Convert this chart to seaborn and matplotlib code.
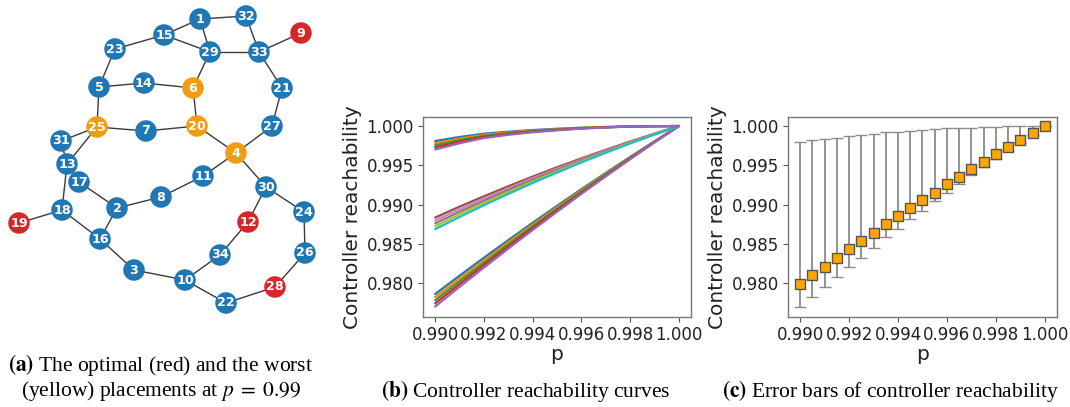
import numpy as np
import pandas as pd
import matplotlib
matplotlib.use("Agg")
import matplotlib.pyplot as plt
import seaborn as sns

# ---------------- data ----------------
# (a) network placement
node_ids = list(range(1, 35))
node_x = [200, 117, 134, 236, 99, 193, 146, 161, 301, 185, 203, 248, 67, 144, 164, 100, 79,
          62, 19, 197, 282, 226, 115, 304, 97, 305, 272, 275, 210, 266, 61, 246, 259, 220]
node_y = [19, 208, 270, 153, 87, 88, 131, 197, 33, 280, 176, 222, 164, 83, 35, 239, 182,
          210, 223, 126, 88, 303, 49, 212, 127, 253, 126, 287, 52, 187, 141, 16, 52, 255]
optimal_nodes = [9, 12, 19, 28]
worst_nodes = [4, 6, 20, 25]
edges = [(1, 32), (1, 15), (1, 29), (32, 33), (33, 9), (15, 23), (15, 29), (29, 33), (29, 6),
         (23, 5), (33, 21), (5, 14), (14, 6), (6, 20), (5, 25), (21, 27), (25, 7), (7, 20),
         (25, 31), (25, 13), (20, 4), (27, 4), (31, 13), (13, 17), (13, 18), (17, 2), (4, 11),
         (11, 8), (8, 2), (2, 16), (18, 16), (18, 19), (16, 3), (3, 10), (10, 34), (34, 12),
         (12, 30), (4, 30), (30, 24), (24, 26), (26, 28), (28, 22), (22, 10)]

# (b) reachability curves
p_curve = [0.990, 0.991, 0.992, 0.993, 0.994, 0.995, 0.996, 0.997, 0.998, 0.999, 1.000]
top_band = [
    [0.99809, 0.99860, 0.99902, 0.99928, 0.99949, 0.99965, 0.99979, 0.99988, 0.99995, 0.99998, 1.0],
    [0.99782, 0.99840, 0.99889, 0.99918, 0.99942, 0.99960, 0.99976, 0.99987, 0.99995, 0.99998, 1.0],
    [0.99755, 0.99820, 0.99875, 0.99908, 0.99935, 0.99955, 0.99973, 0.99985, 0.99994, 0.99998, 1.0],
    [0.99728, 0.99800, 0.99861, 0.99898, 0.99928, 0.99950, 0.99970, 0.99983, 0.99993, 0.99998, 1.0],
    [0.99701, 0.99780, 0.99847, 0.99888, 0.99921, 0.99945, 0.99967, 0.99982, 0.99993, 0.99998, 1.0],
]
mid_band = [
    [0.98834, 0.98973, 0.99105, 0.99233, 0.99356, 0.99475, 0.99588, 0.99697, 0.99803, 0.99903, 1.0],
    [0.98797, 0.98940, 0.99077, 0.99208, 0.99336, 0.99458, 0.99575, 0.99688, 0.99796, 0.99900, 1.0],
    [0.98760, 0.98907, 0.99048, 0.99184, 0.99315, 0.99441, 0.99562, 0.99678, 0.99790, 0.99897, 1.0],
    [0.98723, 0.98874, 0.99019, 0.99160, 0.99294, 0.99424, 0.99549, 0.99668, 0.99784, 0.99894, 1.0],
    [0.98686, 0.98841, 0.98991, 0.99135, 0.99274, 0.99407, 0.99536, 0.99659, 0.99777, 0.99891, 1.0],
]
low_band = [
    [0.97860, 0.98093, 0.98322, 0.98546, 0.98767, 0.98983, 0.99195, 0.99402, 0.99606, 0.99805, 1.0],
    [0.97820, 0.98058, 0.98290, 0.98519, 0.98744, 0.98964, 0.99180, 0.99391, 0.99598, 0.99802, 1.0],
    [0.97780, 0.98022, 0.98259, 0.98492, 0.98721, 0.98945, 0.99165, 0.99380, 0.99591, 0.99798, 1.0],
    [0.97740, 0.97986, 0.98228, 0.98465, 0.98698, 0.98926, 0.99150, 0.99369, 0.99584, 0.99794, 1.0],
    [0.97700, 0.97951, 0.98196, 0.98438, 0.98675, 0.98907, 0.99135, 0.99358, 0.99576, 0.99791, 1.0],
]

# (c) error bars
p_err = [0.9900, 0.9905, 0.9910, 0.9915, 0.9920, 0.9925, 0.9930, 0.9935, 0.9940, 0.9945, 0.9950,
         0.9955, 0.9960, 0.9965, 0.9970, 0.9975, 0.9980, 0.9985, 0.9990, 0.9995, 1.0000]
mean_r = [0.9799, 0.9810, 0.9821, 0.9832, 0.9843, 0.9853, 0.9864, 0.9875, 0.9885, 0.9896, 0.9906,
          0.9915, 0.9926, 0.9935, 0.9945, 0.9954, 0.9964, 0.9973, 0.9982, 0.9991, 1.0000]
max_r = [0.9980, 0.9982, 0.9983, 0.9985, 0.9987, 0.9989, 0.9990, 0.9992, 0.9993, 0.9994, 0.9995,
         0.9996, 0.9997, 0.9998, 0.9998, 0.9999, 0.9999, 1.0000, 1.0000, 1.0000, 1.0000]
min_r = [0.9769, 0.9782, 0.9795, 0.9808, 0.9820, 0.9832, 0.9845, 0.9858, 0.9869, 0.9881, 0.9892,
         0.9904, 0.9915, 0.9926, 0.9937, 0.9948, 0.9958, 0.9968, 0.9979, 0.9989, 1.0000]

x_ticks = [0.990, 0.992, 0.994, 0.996, 0.998, 1.000]
y_ticks = [0.980, 0.985, 0.990, 0.995, 1.000]

# ---------------- style ----------------
sns.set_style("ticks")
plt.rcParams["font.family"] = ["DejaVu Sans"]
plt.rcParams["mathtext.fontset"] = "stix"

W, H = 1070, 407
fig = plt.figure(figsize=(W / 100, H / 100), dpi=100)


def fx(px):
    return px / W


def fy(py):
    return 1 - py / H


# ---------------- (a) graph ----------------
axa = fig.add_axes([0, fy(322), fx(340), 322 / H])
pos = {n: (x, y) for n, x, y in zip(node_ids, node_x, node_y)}
for a, b in edges:
    axa.plot([pos[a][0], pos[b][0]], [pos[a][1], pos[b][1]], color="#3a3a3a", lw=1.0, zorder=1)
roles = ["optimal" if n in optimal_nodes else ("worst" if n in worst_nodes else "other")
         for n in node_ids]
df_nodes = pd.DataFrame({"x": node_x, "y": node_y, "role": roles})
sns.scatterplot(data=df_nodes, x="x", y="y", hue="role",
                palette={"other": "#1f77b4", "optimal": "#d62728", "worst": "#f39c12"},
                s=240, linewidth=0, legend=False, ax=axa, zorder=2)
for n, x, y in zip(node_ids, node_x, node_y):
    axa.text(x, y, str(n), color="white", fontsize=9.2, fontweight="bold",
             ha="center", va="center", zorder=3)
axa.set_xlim(0, 340)
axa.set_ylim(322, 0)
axa.set_axis_off()


def style_axis(ax):
    for s in ax.spines.values():
        s.set_visible(True)
        s.set_color("#777777")
        s.set_linewidth(1.0)
    ax.tick_params(axis="both", labelsize=12, length=3.5, width=0.8, color="#555555",
                   labelcolor="#222222", direction="out", pad=3)
    ax.set_xticks(x_ticks)
    ax.set_xticklabels([f"{v:.3f}" for v in x_ticks])
    ax.set_yticks(y_ticks)
    ax.set_yticklabels([f"{v:.3f}" for v in y_ticks])
    ax.set_xlabel("p", fontsize=14.5, color="#222222", labelpad=1)
    ax.set_ylabel("Controller reachability", fontsize=14.5, color="#222222", labelpad=3)
    ax.set_ylim(0.97567, 1.00115)


# ---------------- (b) curves ----------------
axb = fig.add_axes([fx(423), fy(317), fx(691) - fx(423), 200 / H])
rows = []
lid = 0
for band in (low_band, mid_band, top_band):
    for line in band:
        for p, v in zip(p_curve, line):
            rows.append({"p": p, "r": v, "line": lid})
        lid += 1
df_lines = pd.DataFrame(rows)
pal = sns.color_palette("tab10", 10)
palette = {i: pal[i % 10] for i in range(lid)}
sns.lineplot(data=df_lines, x="p", y="r", hue="line", palette=palette, legend=False,
             linewidth=1.6, ax=axb, estimator=None, sort=False)
axb.set_xlim(0.9895, 1.0005)
style_axis(axb)

# ---------------- (c) error bars ----------------
axc = fig.add_axes([fx(788), fy(317), fx(1057) - fx(788), 200 / H])
mean_a = np.array(mean_r)
yerr = [mean_a - np.array(min_r), np.array(max_r) - mean_a]
axc.errorbar(p_err, mean_r, yerr=yerr, fmt="none", ecolor="#8a8a8a", elinewidth=1.3,
             capsize=4, capthick=1.0, zorder=1)
df_err = pd.DataFrame({"p": p_err, "r": mean_r})
sns.scatterplot(data=df_err, x="p", y="r", marker="s", s=60, color="orange",
                edgecolor="#555555", linewidth=1.0, ax=axc, zorder=3)
axc.set_xlim(0.9895, 1.0005)
style_axis(axc)

# ---------------- captions ----------------
cap_kw = dict(family="Liberation Serif", fontsize=15.5, color="black", ha="center", va="center")
fig.text(fx(161), fy(365), r"$\mathbf{(a)}$ The optimal (red) and the worst", **cap_kw)
fig.text(fx(161), fy(391), r"(yellow) placements at $p\;=\;0.99$", **cap_kw)
fig.text(fx(526), fy(391), r"$\mathbf{(b)}$ Controller reachability curves", **cap_kw)
fig.text(fx(890), fy(391), r"$\mathbf{(c)}$ Error bars of controller reachability", **cap_kw)

fig.savefig("out.png", dpi=100, facecolor="white")
